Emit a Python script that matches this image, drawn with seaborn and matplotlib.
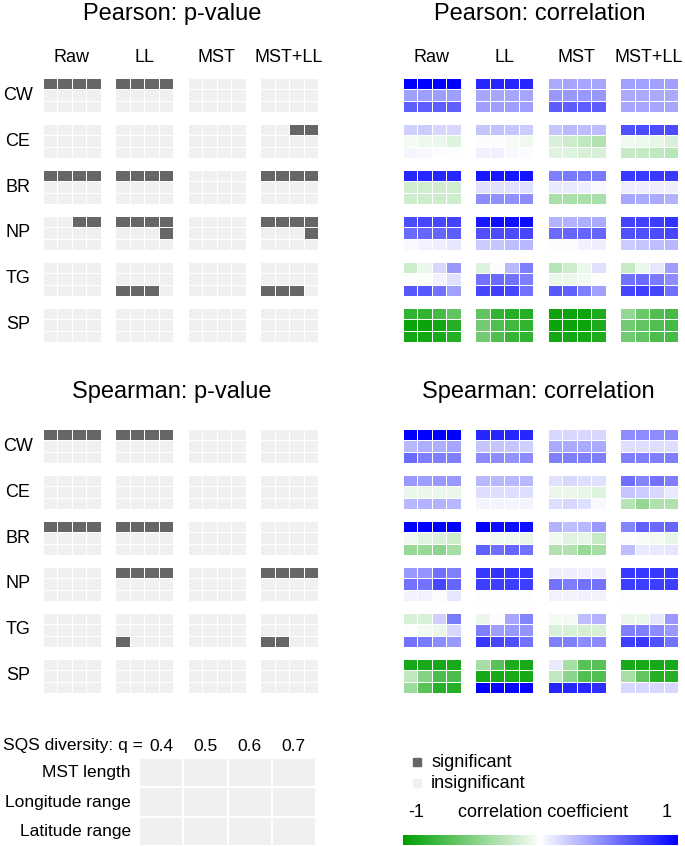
import numpy as np
import pandas as pd
import matplotlib
matplotlib.use("Agg")
import matplotlib.pyplot as plt
from matplotlib.colors import ListedColormap, LinearSegmentedColormap
from matplotlib.patches import Rectangle
import seaborn as sns

# ---- labels ----
groups = ["CW", "CE", "BR", "NP", "TG", "SP"]
methods = ["Raw", "LL", "MST", "MST+LL"]
q_values = ["0.4", "0.5", "0.6", "0.7"]
measures = ["MST length", "Longitude range", "Latitude range"]

# ---- Pearson correlation: rows = MST / Lon / Lat, cols = Raw q.4-.7 | LL | MST | MST+LL ----
pearson_r_CW = [
    [1.00, 1.00, 1.00, 1.00, 0.85, 0.85, 0.85, 0.85, 0.33, 0.35, 0.35, 0.35, 0.37, 0.37, 0.37, 0.37],
    [0.37, 0.38, 0.38, 0.38, 0.35, 0.35, 0.35, 0.35, 0.40, 0.40, 0.40, 0.40, 0.33, 0.33, 0.33, 0.33],
    [0.63, 0.63, 0.63, 0.63, 0.38, 0.38, 0.38, 0.38, 0.64, 0.64, 0.64, 0.64, 0.35, 0.35, 0.35, 0.35],
]
pearson_r_CE = [
    [0.18, 0.20, 0.16, 0.16, 0.22, 0.24, 0.22, 0.20, 0.22, 0.27, 0.25, 0.25, 0.68, 0.70, 0.70, 0.70],
    [-0.05, -0.07, -0.08, -0.13, 0.01, 0.01, -0.03, -0.06, -0.15, -0.20, -0.25, -0.30, -0.06, -0.07, -0.10, -0.15],
    [0.04, 0.03, 0.01, -0.01, 0.06, 0.06, 0.03, 0.01, -0.12, -0.13, -0.15, -0.15, -0.22, -0.22, -0.25, -0.28],
]
pearson_r_BR = [
    [0.85, 0.85, 0.85, 0.85, 0.90, 0.90, 0.90, 0.92, 0.50, 0.52, 0.52, 0.52, 0.78, 0.78, 0.78, 0.78],
    [-0.18, -0.18, -0.18, -0.18, 0.12, 0.12, 0.12, 0.12, 0.08, 0.08, 0.07, 0.03, 0.07, 0.07, 0.07, 0.07],
    [-0.20, -0.20, -0.20, -0.20, 0.45, 0.43, 0.43, 0.45, -0.33, -0.33, -0.33, -0.33, 0.35, 0.33, 0.33, 0.30],
]
pearson_r_NP = [
    [0.70, 0.72, 0.72, 0.74, 0.90, 0.94, 0.93, 0.95, 0.30, 0.30, 0.32, 0.33, 0.73, 0.74, 0.76, 0.80],
    [0.58, 0.60, 0.60, 0.63, 0.68, 0.70, 0.70, 0.72, 0.58, 0.60, 0.60, 0.60, 0.68, 0.68, 0.70, 0.72],
    [0.03, 0.05, 0.07, 0.10, 0.20, 0.22, 0.25, 0.28, 0.01, 0.01, 0.05, 0.07, 0.20, 0.22, 0.25, 0.28],
]
pearson_r_TG = [
    [-0.20, -0.08, 0.15, 0.40, -0.13, 0.01, 0.28, 0.50, -0.28, -0.20, -0.08, 0.12, -0.22, -0.08, 0.10, 0.38],
    [-0.01, -0.01, 0.05, 0.12, 0.55, 0.58, 0.55, 0.50, -0.08, -0.08, -0.05, -0.01, 0.55, 0.58, 0.52, 0.45],
    [0.65, 0.65, 0.55, 0.37, 0.72, 0.75, 0.72, 0.55, 0.65, 0.62, 0.50, 0.37, 0.72, 0.75, 0.72, 0.57],
]
pearson_r_SP = [
    [-0.80, -0.80, -0.72, -0.62, -0.62, -0.80, -0.85, -0.85, -0.95, -0.95, -0.95, -0.88, -0.42, -0.58, -0.68, -0.72],
    [-0.95, -0.95, -0.92, -0.85, -0.55, -0.68, -0.75, -0.80, -0.95, -0.95, -0.95, -0.88, -0.55, -0.62, -0.68, -0.72],
    [-0.92, -0.92, -0.90, -0.85, -0.55, -0.68, -0.78, -0.80, -0.92, -0.92, -0.92, -0.88, -0.55, -0.62, -0.70, -0.72],
]

# ---- Spearman correlation ----
spearman_r_CW = [
    [1.00, 1.00, 1.00, 1.00, 0.85, 0.85, 0.85, 0.85, 0.15, 0.15, 0.15, 0.15, 0.45, 0.45, 0.45, 0.45],
    [0.28, 0.32, 0.32, 0.35, 0.22, 0.22, 0.22, 0.18, 0.33, 0.33, 0.33, 0.33, 0.13, 0.13, 0.13, 0.13],
    [0.58, 0.50, 0.50, 0.50, 0.45, 0.45, 0.42, 0.45, 0.50, 0.50, 0.50, 0.50, 0.50, 0.50, 0.50, 0.50],
]
spearman_r_CE = [
    [0.40, 0.38, 0.40, 0.40, 0.28, 0.28, 0.28, 0.28, 0.12, 0.15, 0.13, 0.12, 0.57, 0.48, 0.55, 0.50],
    [-0.08, -0.08, -0.08, -0.08, 0.13, 0.13, 0.13, 0.13, -0.08, -0.08, -0.10, -0.13, 0.22, 0.20, 0.15, 0.08],
    [0.28, 0.30, 0.30, 0.28, 0.04, 0.04, 0.04, 0.04, 0.13, 0.15, 0.13, 0.03, -0.28, -0.42, -0.32, -0.32],
]
spearman_r_BR = [
    [1.00, 1.00, 1.00, 1.00, 1.00, 0.95, 0.95, 0.93, 0.30, 0.25, 0.28, 0.40, 0.48, 0.62, 0.58, 0.60],
    [-0.06, -0.12, -0.15, -0.20, 0.01, -0.06, -0.07, -0.08, -0.06, -0.12, -0.10, -0.22, 0.01, -0.03, -0.05, -0.10],
    [-0.40, -0.40, -0.45, -0.35, 0.62, 0.57, 0.60, 0.55, -0.30, -0.30, -0.40, -0.35, 0.25, 0.08, 0.08, 0.10],
]
spearman_r_NP = [
    [0.40, 0.42, 0.57, 0.50, 0.78, 0.80, 0.78, 0.78, 0.07, 0.07, 0.06, 0.07, 0.78, 0.78, 0.78, 0.78],
    [0.55, 0.55, 0.72, 0.60, 0.75, 0.75, 0.75, 0.75, 0.55, 0.50, 0.55, 0.55, 0.75, 0.75, 0.75, 0.75],
    [0.05, 0.05, 0.01, 0.10, -0.01, -0.01, -0.01, -0.01, 0.05, 0.05, 0.05, 0.05, -0.01, -0.01, -0.01, -0.01],
]
spearman_r_TG = [
    [-0.15, -0.15, 0.18, 0.52, -0.08, 0.01, 0.35, 0.48, -0.05, -0.05, 0.25, 0.30, -0.08, -0.08, 0.10, 0.40],
    [-0.01, -0.05, -0.08, 0.15, 0.50, 0.38, 0.40, 0.42, -0.15, -0.15, -0.17, -0.15, 0.50, 0.50, 0.45, 0.40],
    [0.55, 0.52, 0.45, 0.40, 0.78, 0.72, 0.68, 0.55, 0.50, 0.50, 0.45, 0.45, 0.75, 0.78, 0.68, 0.55],
]
spearman_r_SP = [
    [-0.90, -0.90, -0.90, -0.90, -0.35, -0.65, -0.88, -0.90, 0.08, -0.35, -0.65, -0.65, -0.90, -0.90, -0.90, -0.90],
    [-0.25, -0.48, -0.70, -0.70, -0.90, -0.90, -0.90, -0.90, -0.25, -0.45, -0.68, -0.68, -0.35, -0.62, -0.85, -0.85],
    [-0.38, -0.65, -0.85, -0.85, 1.00, 0.97, 0.97, 0.97, 0.85, 0.85, 0.85, 0.82, 0.15, 0.15, 0.15, 0.15],
]

# ---- significance (1 = significant), same layout ----
pearson_sig_CW = ["1111 1111 0000 0000", "0000 0000 0000 0000", "0000 0000 0000 0000"]
pearson_sig_CE = ["0000 0000 0000 0011", "0000 0000 0000 0000", "0000 0000 0000 0000"]
pearson_sig_BR = ["1111 1111 0000 1111", "0000 0000 0000 0000", "0000 0000 0000 0000"]
pearson_sig_NP = ["0011 1111 0000 1111", "0000 0001 0000 0001", "0000 0000 0000 0000"]
pearson_sig_TG = ["0000 0000 0000 0000", "0000 0000 0000 0000", "0000 1110 0000 1110"]
pearson_sig_SP = ["0000 0000 0000 0000", "0000 0000 0000 0000", "0000 0000 0000 0000"]

spearman_sig_CW = ["1111 1111 0000 0000", "0000 0000 0000 0000", "0000 0000 0000 0000"]
spearman_sig_CE = ["0000 0000 0000 0000", "0000 0000 0000 0000", "0000 0000 0000 0000"]
spearman_sig_BR = ["1111 1111 0000 0000", "0000 0000 0000 0000", "0000 0000 0000 0000"]
spearman_sig_NP = ["0000 1111 0000 1111", "0000 0000 0000 0000", "0000 0000 0000 0000"]
spearman_sig_TG = ["0000 0000 0000 0000", "0000 0000 0000 0000", "0000 1000 0000 1100"]
spearman_sig_SP = ["0000 0000 0000 0000", "0000 0000 0000 0000", "0000 0000 0000 0000"]

SIG_COLOR = "#666666"
INSIG_COLOR = "#F0F0F0"
corr_cmap = LinearSegmentedColormap.from_list("gwb", ["#00A000", "#FFFFFF", "#0000FF"])
sig_cmap = ListedColormap([INSIG_COLOR, SIG_COLOR])

W, H = 685, 846


def rect(x0, y0, x1, y1):
    return [x0 / W, 1 - y1 / H, (x1 - x0) / W, (y1 - y0) / H]


def parse_sig(rows):
    return [[int(c) for c in r.replace(" ", "")] for r in rows]


def block_matrix(blocks):
    # 6 groups x 4 methods of 3x4 cells, one empty row/col between blocks
    mat = np.full((6 * 4 - 1, 4 * 5 - 1), np.nan)
    for g, arr in enumerate(blocks):
        arr = np.asarray(arr, dtype=float)
        for m in range(4):
            mat[g * 4:g * 4 + 3, m * 5:m * 5 + 4] = arr[:, m * 4:m * 4 + 4]
    return mat


sns.set_theme(style="white")
plt.rcParams["font.family"] = ["Liberation Sans", "DejaVu Sans"]
plt.rcParams["text.color"] = "black"
plt.rcParams["xtick.color"] = "black"
plt.rcParams["ytick.color"] = "black"

fig = plt.figure(figsize=(6.85, 8.46), dpi=100)

pearson_r = [pearson_r_CW, pearson_r_CE, pearson_r_BR, pearson_r_NP, pearson_r_TG, pearson_r_SP]
spearman_r = [spearman_r_CW, spearman_r_CE, spearman_r_BR, spearman_r_NP, spearman_r_TG, spearman_r_SP]
pearson_sig = [parse_sig(s) for s in [pearson_sig_CW, pearson_sig_CE, pearson_sig_BR,
                                      pearson_sig_NP, pearson_sig_TG, pearson_sig_SP]]
spearman_sig = [parse_sig(s) for s in [spearman_sig_CW, spearman_sig_CE, spearman_sig_BR,
                                       spearman_sig_NP, spearman_sig_TG, spearman_sig_SP]]

panels = [
    # data, is_corr, box (px), title, title pos (px), headers, row labels
    (pearson_sig, False, (43, 78, 318, 342), "Pearson: p-value", (172, 14), True, True),
    (pearson_r, True, (403, 78, 678, 342), "Pearson: correlation", (540, 14), True, False),
    (spearman_sig, False, (43, 429, 318, 693), "Spearman: p-value", (172, 392), False, True),
    (spearman_r, True, (403, 429, 678, 693), "Spearman: correlation", (538, 392), False, False),
]

for data, is_corr, box, title, tpos, headers, rowlabels in panels:
    ax = fig.add_axes(rect(*box))
    df = pd.DataFrame(block_matrix(data))
    if is_corr:
        sns.heatmap(df, cmap=corr_cmap, vmin=-1, vmax=1, cbar=False,
                    linewidths=0.6, linecolor="white",
                    xticklabels=False, yticklabels=False, ax=ax)
    else:
        sns.heatmap(df, cmap=sig_cmap, vmin=0, vmax=1, cbar=False,
                    linewidths=0.6, linecolor="white",
                    xticklabels=False, yticklabels=False, ax=ax)
    col_px = (box[2] - box[0]) / df.shape[1]
    row_px = (box[3] - box[1]) / df.shape[0]
    if headers:
        for m, name in enumerate(methods):
            ax.text(m * 5 + 2, (57 - box[1]) / row_px, name, ha="center", va="center", fontsize=13)
    if rowlabels:
        for g, name in enumerate(groups):
            ax.text((18 - box[0]) / col_px, g * 4 + 1.5, name, ha="center", va="center", fontsize=13)
    fig.text(tpos[0] / W, 1 - tpos[1] / H, title, ha="center", va="center", fontsize=17)

# ---- key grid ----
ax_key = fig.add_axes(rect(139, 758, 316, 846))
key_df = pd.DataFrame(np.zeros((3, 4)), index=measures, columns=q_values)
sns.heatmap(key_df, cmap=ListedColormap([INSIG_COLOR]), cbar=False,
            linewidths=1.2, linecolor="white", ax=ax_key)
ax_key.xaxis.tick_top()
ax_key.tick_params(axis="both", length=0, labelsize=12.5)
ax_key.tick_params(axis="x", pad=3)
ax_key.tick_params(axis="y", pad=6)
plt.setp(ax_key.get_yticklabels(), rotation=0)
plt.setp(ax_key.get_xticklabels(), rotation=0)
fig.text(143 / W, 1 - 745 / H, "SQS diversity: q =", ha="right", va="center", fontsize=12.5)

# ---- legend ----
for yc, col, lab in [(762, SIG_COLOR, "significant"), (783, INSIG_COLOR, "insignificant")]:
    fig.add_artist(Rectangle((413 / W, 1 - (yc + 4) / H), 8 / W, 8 / H,
                             transform=fig.transFigure, color=col))
    fig.text(431 / W, 1 - yc / H, lab, ha="left", va="center", fontsize=13)

fig.text(408 / W, 1 - 812 / H, "-1", ha="left", va="center", fontsize=13)
fig.text(543 / W, 1 - 812 / H, "correlation coefficient", ha="center", va="center", fontsize=13)
fig.text(667 / W, 1 - 812 / H, "1", ha="center", va="center", fontsize=13)

ax_cb = fig.add_axes(rect(403, 835, 678, 845))
ax_cb.imshow(np.linspace(-1, 1, 256)[None, :], aspect="auto", cmap=corr_cmap, vmin=-1, vmax=1)
ax_cb.set_axis_off()

fig.savefig("out.png", dpi=100)
